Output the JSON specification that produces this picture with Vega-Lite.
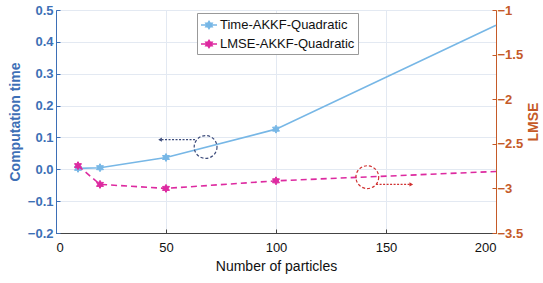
{
  "$schema": "https://vega.github.io/schema/vega-lite/v6.json",
  "width": 440,
  "height": 223,
  "autosize": {"type": "none"},
  "padding": {"left": 56, "top": 10, "right": 47, "bottom": 50},
  "config": {
    "view": {"stroke": "#555555", "strokeWidth": 1},
    "font": "Liberation Sans",
    "axis": {"labelFont": "Liberation Sans", "titleFont": "Liberation Sans", "labelFontSize": 13, "titleFontSize": 14, "tickSize": -4, "labelPadding": 7}
  },
  "datasets": {
    "time": [
      {"n": 10, "v": 0.003, "series": "Time-AKKF-Quadratic"},
      {"n": 20, "v": 0.005, "series": "Time-AKKF-Quadratic"},
      {"n": 50, "v": 0.037, "series": "Time-AKKF-Quadratic"},
      {"n": 100, "v": 0.126, "series": "Time-AKKF-Quadratic"},
      {"n": 200, "v": 0.452, "series": "Time-AKKF-Quadratic"}
    ],
    "lmse": [
      {"n": 10, "v": -2.745, "series": "LMSE-AKKF-Quadratic"},
      {"n": 20, "v": -2.955, "series": "LMSE-AKKF-Quadratic"},
      {"n": 50, "v": -3.0, "series": "LMSE-AKKF-Quadratic"},
      {"n": 100, "v": -2.915, "series": "LMSE-AKKF-Quadratic"},
      {"n": 200, "v": -2.81, "series": "LMSE-AKKF-Quadratic"}
    ]
  },
  "encoding": {
    "x": {
      "field": "n", "type": "quantitative",
      "scale": {"domain": [0, 200], "nice": false},
      "axis": {"values": [0, 50, 100, 150, 200], "title": "Number of particles", "titleColor": "#111111", "labelColor": "#111111", "titleFontWeight": "normal", "domainColor": "#444444", "tickColor": "#444444", "gridColor": "#e3e9f2", "grid": true, "labelPadding": 12, "titlePadding": 5}
    }
  },
  "layer": [
    {
      "encoding": {
        "y": {
          "field": "v", "type": "quantitative",
          "scale": {"domain": [-0.2, 0.5], "nice": false, "zero": false},
          "axis": {"orient": "left", "values": [-0.2, -0.1, 0, 0.1, 0.2, 0.3, 0.4, 0.5], "title": "Computation time", "titleColor": "#3d6fb6", "labelColor": "#3d6fb6", "labelFontWeight": "bold", "titleFontWeight": "bold", "domainColor": "#3d6fb6", "tickColor": "#3d6fb6", "grid": true, "gridColor": "#e3e9f2", "titlePadding": 5}
        }
      },
      "layer": [
        {"data": {"name": "time"}, "mark": {"type": "line", "color": "#77b7e6", "strokeWidth": 1.6}},
        {
          "data": {"name": "time"},
          "transform": [{"filter": "datum.n < 200"}],
          "mark": {"type": "point", "filled": true, "size": 64, "strokeWidth": 1, "shape": "M0,-1L0.289,-0.5L0.866,-0.5L0.577,0L0.866,0.5L0.289,0.5L0,1L-0.289,0.5L-0.866,0.5L-0.577,0L-0.866,-0.5L-0.289,-0.5Z", "opacity": 1},
          "encoding": {
            "fill": {
              "field": "series", "type": "nominal",
              "scale": {"domain": ["Time-AKKF-Quadratic", "LMSE-AKKF-Quadratic"], "range": ["#77b7e6", "#dd2aa0"]},
              "legend": {"title": null, "orient": "none", "legendX": 141, "legendY": 3, "symbolType": "M-1,0H1M0,-0.44L0.127,-0.22L0.381,-0.22L0.254,0L0.381,0.22L0.127,0.22L0,0.44L-0.127,0.22L-0.381,0.22L-0.254,0L-0.381,-0.22L-0.127,-0.22Z", "symbolSize": 256, "symbolStrokeWidth": 1.6, "labelFontSize": 13, "labelColor": "#111111", "labelFont": "Liberation Sans", "strokeColor": "#999999", "fillColor": "#ffffff", "padding": 3, "rowPadding": 3, "labelOffset": 2, "symbolOpacity": 1}
            },
            "stroke": {
              "field": "series", "type": "nominal",
              "scale": {"domain": ["Time-AKKF-Quadratic", "LMSE-AKKF-Quadratic"], "range": ["#77b7e6", "#dd2aa0"]},
              "legend": {"title": null, "orient": "none", "legendX": 141, "legendY": 3, "symbolType": "M-1,0H1M0,-0.44L0.127,-0.22L0.381,-0.22L0.254,0L0.381,0.22L0.127,0.22L0,0.44L-0.127,0.22L-0.381,0.22L-0.254,0L-0.381,-0.22L-0.127,-0.22Z", "symbolSize": 256, "symbolStrokeWidth": 1.6, "labelFontSize": 13, "labelColor": "#111111", "labelFont": "Liberation Sans", "strokeColor": "#999999", "fillColor": "#ffffff", "padding": 3, "rowPadding": 3, "labelOffset": 2, "symbolOpacity": 1}
            }
          }
        },
        {
          "data": {"values": [{"n": 68, "v": 0.07}]},
          "mark": {"type": "point", "shape": "circle", "size": 520, "filled": false, "color": "#3b4a7a", "strokeDash": [3, 2], "strokeWidth": 1.2, "opacity": 1}
        },
        {
          "data": {"values": [{"n": 63.2, "n2": 47.5, "v": 0.093}]},
          "mark": {"type": "rule", "color": "#3b4a7a", "strokeDash": [2, 1.5], "strokeWidth": 1.2},
          "encoding": {"x2": {"field": "n2"}}
        },
        {
          "data": {"values": [{"n": 47.3, "v": 0.093}]},
          "mark": {"type": "point", "shape": "triangle-left", "size": 18, "filled": true, "color": "#3b4a7a", "opacity": 1}
        }
      ]
    },
    {
      "encoding": {
        "y": {
          "field": "v", "type": "quantitative",
          "scale": {"domain": [-3.5, -1], "nice": false, "zero": false},
          "axis": {"orient": "right", "values": [-3.5, -3, -2.5, -2, -1.5, -1], "format": ".1~f", "title": "LMSE", "titleAngle": 270, "titleColor": "#c55a28", "labelColor": "#c55a28", "labelFontWeight": "bold", "titleFontWeight": "bold", "domainColor": "#c55a28", "tickColor": "#c55a28", "grid": false, "labelPadding": 5, "titlePadding": 18}
        }
      },
      "layer": [
        {"data": {"name": "lmse"}, "mark": {"type": "line", "color": "#dd2aa0", "strokeWidth": 1.6, "strokeDash": [6, 4]}},
        {
          "data": {"name": "lmse"},
          "transform": [{"filter": "datum.n < 200"}],
          "mark": {"type": "point", "filled": true, "size": 64, "strokeWidth": 1, "shape": "M0,-1L0.289,-0.5L0.866,-0.5L0.577,0L0.866,0.5L0.289,0.5L0,1L-0.289,0.5L-0.866,0.5L-0.577,0L-0.866,-0.5L-0.289,-0.5Z", "opacity": 1},
          "encoding": {
            "fill": {
              "field": "series", "type": "nominal",
              "scale": {"domain": ["Time-AKKF-Quadratic", "LMSE-AKKF-Quadratic"], "range": ["#77b7e6", "#dd2aa0"]},
              "legend": {"title": null, "orient": "none", "legendX": 141, "legendY": 3, "symbolType": "M-1,0H1M0,-0.44L0.127,-0.22L0.381,-0.22L0.254,0L0.381,0.22L0.127,0.22L0,0.44L-0.127,0.22L-0.381,0.22L-0.254,0L-0.381,-0.22L-0.127,-0.22Z", "symbolSize": 256, "symbolStrokeWidth": 1.6, "labelFontSize": 13, "labelColor": "#111111", "labelFont": "Liberation Sans", "strokeColor": "#999999", "fillColor": "#ffffff", "padding": 3, "rowPadding": 3, "labelOffset": 2, "symbolOpacity": 1}
            },
            "stroke": {
              "field": "series", "type": "nominal",
              "scale": {"domain": ["Time-AKKF-Quadratic", "LMSE-AKKF-Quadratic"], "range": ["#77b7e6", "#dd2aa0"]},
              "legend": {"title": null, "orient": "none", "legendX": 141, "legendY": 3, "symbolType": "M-1,0H1M0,-0.44L0.127,-0.22L0.381,-0.22L0.254,0L0.381,0.22L0.127,0.22L0,0.44L-0.127,0.22L-0.381,0.22L-0.254,0L-0.381,-0.22L-0.127,-0.22Z", "symbolSize": 256, "symbolStrokeWidth": 1.6, "labelFontSize": 13, "labelColor": "#111111", "labelFont": "Liberation Sans", "strokeColor": "#999999", "fillColor": "#ffffff", "padding": 3, "rowPadding": 3, "labelOffset": 2, "symbolOpacity": 1}
            }
          }
        },
        {
          "data": {"values": [{"n": 141.5, "v": -2.874}]},
          "mark": {"type": "point", "shape": "circle", "size": 520, "filled": false, "color": "#d03030", "strokeDash": [3, 2], "strokeWidth": 1.2, "opacity": 1}
        },
        {
          "data": {"values": [{"n": 145.5, "n2": 161, "v": -2.955}]},
          "mark": {"type": "rule", "color": "#d03030", "strokeDash": [2, 1.5], "strokeWidth": 1.2},
          "encoding": {"x2": {"field": "n2"}}
        },
        {
          "data": {"values": [{"n": 161.5, "v": -2.955}]},
          "mark": {"type": "point", "shape": "triangle-right", "size": 18, "filled": true, "color": "#d03030", "opacity": 1}
        }
      ]
    }
  ],
  "resolve": {"scale": {"y": "independent"}}
}
